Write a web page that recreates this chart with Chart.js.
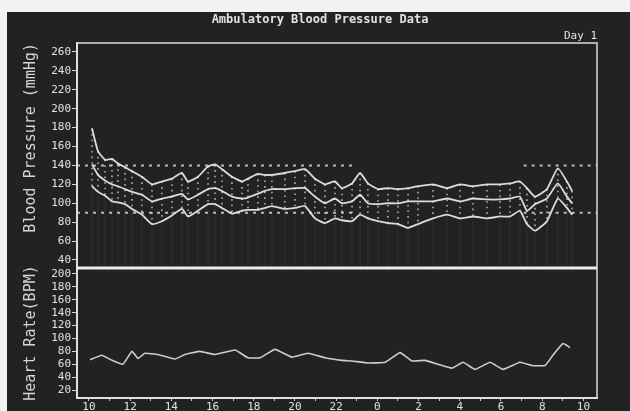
<!DOCTYPE html>
<html>
<head>
<meta charset="utf-8">
<script src="https://cdn.jsdelivr.net/npm/chart.js@4.4.1/dist/chart.umd.min.js"></script>
<style>
  html, body { margin: 0; padding: 0; background: #f2f2f2; }
  #wrap { position: relative; width: 630px; height: 411px; overflow: hidden; }
  #panel { position: absolute; left: 7px; top: 12px; right: 0; bottom: 0; background: #222; }
  #c { position: absolute; left: 0; top: 0; }
</style>
</head>
<body>
<div id="wrap"><div id="panel"></div><canvas id="c" width="630" height="411"></canvas></div>
<script>
// readings, time in hours from midnight of day 1 (24+ = next morning)
const times = [10.15, 10.44, 10.78, 11.12, 11.41, 11.75, 12.09, 12.57, 13.06, 13.54, 14.03, 14.51, 14.81,
  15.29, 15.78, 16.12, 16.46, 16.94, 17.43, 17.72, 18.20, 18.54, 18.88, 19.51, 20.00, 20.49, 20.97, 21.46,
  21.94, 22.28, 22.77, 23.16, 23.54, 24.03, 24.51, 25.00, 25.49, 25.97, 26.70, 27.38, 28.01, 28.64, 29.32,
  29.95, 30.44, 30.92, 31.26, 31.65, 32.23, 32.76, 33.20, 33.45];
const systolic = [179, 155, 146, 147, 142, 138, 134, 128, 120, 123, 126, 132, 123,
  128, 139, 141, 136, 128, 123, 126, 131, 130, 130, 132, 134, 136, 126, 120,
  123, 116, 121, 132, 121, 115, 116, 115, 116, 118, 120, 116, 120, 118, 120,
  120, 121, 123, 116, 107, 115, 137, 123, 113];
const meanBP = [141, 130, 124, 120, 118, 115, 112, 109, 102, 105, 107, 110, 104,
  109, 115, 116, 113, 107, 105, 106, 110, 113, 115, 115, 116, 116, 107, 100,
  105, 100, 102, 109, 100, 99, 100, 100, 102, 102, 102, 105, 102, 105, 104,
  104, 105, 107, 92, 99, 105, 121, 107, 100];
const diastolic = [118, 112, 108, 102, 101, 99, 94, 88, 78, 81, 87, 94, 86,
  92, 99, 99, 95, 89, 92, 93, 93, 95, 97, 94, 95, 97, 84, 79,
  84, 82, 81, 88, 84, 81, 79, 78, 74, 78, 84, 88, 84, 86, 84,
  86, 86, 92, 78, 71, 81, 105, 95, 88];

const hrTimes = [10.05, 10.63, 11.12, 11.65, 12.09, 12.38, 12.72, 13.35, 14.17, 14.66, 15.39, 16.12, 17.09,
  17.72, 18.30, 19.03, 19.85, 20.63, 21.46, 22.28, 22.77, 23.54, 24.37, 25.10, 25.68, 26.31, 26.94, 27.62,
  28.16, 28.74, 29.47, 30.10, 30.92, 31.50, 32.14, 32.52, 33.01, 33.35];
const heartRate = [67, 74, 66, 60, 80, 69, 77, 75, 68, 75, 80, 75, 82,
  70, 70, 83, 71, 77, 70, 66, 65, 62, 63, 78, 65, 66, 60, 54,
  63, 52, 63, 52, 63, 58, 58, 74, 92, 86];

const bpTicks = [40, 60, 80, 100, 120, 140, 160, 180, 200, 220, 240, 260];
const hrTicks = [20, 40, 60, 80, 100, 120, 140, 160, 180, 200];
const hourTicks = [10, 11, 12, 13, 14, 15, 16, 17, 18, 19, 20, 21, 22, 23, 24, 25, 26, 27, 28, 29, 30, 31, 32, 33, 34];
const dayPeriods = [[9.42, 22.9], [31.1, 34.66]];
const dayLimits = [140, 90];

const INK = '#e2e2e2';
const MONO = '"DejaVu Sans Mono", monospace';

const pts = (xs, ys) => xs.map((t, i) => ({x: t, y: ys[i]}));

const datasets = [];
dayPeriods.forEach(p => {
  dayLimits.forEach(lim => {
    datasets.push({
      data: [{x: p[0], y: lim}, {x: p[1], y: lim}],
      yAxisID: 'bp', borderColor: 'rgba(225,225,225,0.8)', borderWidth: 2,
      borderDash: [3, 5], pointRadius: 0
    });
  });
});
[systolic, meanBP, diastolic].forEach(s => {
  datasets.push({
    data: pts(times, s), yAxisID: 'bp', borderColor: 'rgba(236,236,236,0.92)',
    borderWidth: 1.8, pointRadius: 0, tension: 0.15
  });
});
datasets.push({
  data: pts(hrTimes, heartRate), yAxisID: 'hr', borderColor: 'rgba(225,225,225,0.9)',
  borderWidth: 1.6, pointRadius: 0, tension: 0.1
});

// dotted verticals linking diastolic to systolic at each reading
const readingBars = {
  id: 'readingBars',
  beforeDatasetsDraw(chart) {
    const {ctx, scales: {x, bp}} = chart;
    ctx.save();
    times.forEach((t, i) => {
      const px = x.getPixelForValue(t);
      ctx.strokeStyle = 'rgba(255,255,255,0.07)';
      ctx.lineWidth = 1;
      ctx.setLineDash([]);
      ctx.beginPath();
      ctx.moveTo(px, bp.getPixelForValue(diastolic[i]));
      ctx.lineTo(px, bp.bottom);
      ctx.stroke();
      ctx.strokeStyle = 'rgba(225,225,225,0.75)';
      ctx.lineWidth = 1.6;
      ctx.setLineDash([1.6, 4]);
      ctx.beginPath();
      ctx.moveTo(px, bp.getPixelForValue(systolic[i]));
      ctx.lineTo(px, bp.getPixelForValue(diastolic[i]));
      ctx.stroke();
    });
    ctx.restore();
  }
};

// frame, panel divider and headings
const frame = {
  id: 'frame',
  afterDraw(chart) {
    const {ctx, chartArea: a, scales: {bp}} = chart;
    ctx.save();
    ctx.strokeStyle = '#dcdcdc';
    ctx.lineWidth = 1.5;
    ctx.beginPath();
    ctx.moveTo(a.left, a.top);
    ctx.lineTo(a.right, a.top);
    ctx.lineTo(a.right, a.bottom);
    ctx.stroke();
    ctx.lineWidth = 3;
    ctx.strokeStyle = '#ececec';
    ctx.beginPath();
    ctx.moveTo(a.left, bp.bottom);
    ctx.lineTo(a.right, bp.bottom);
    ctx.stroke();
    ctx.fillStyle = INK;
    ctx.textBaseline = 'middle';
    ctx.font = 'bold 12px ' + MONO;
    ctx.textAlign = 'center';
    ctx.fillText('Ambulatory Blood Pressure Data', 320, 20);
    ctx.font = '11px ' + MONO;
    ctx.textAlign = 'right';
    ctx.fillText('Day 1', a.right, 36);
    ctx.restore();
  }
};

const yScale = (min, max, ticks, weight, title, align) => ({
  type: 'linear', position: 'left', stack: 'panels', stackWeight: weight, min, max,
  afterBuildTicks: s => { s.ticks = ticks.map(v => ({value: v})); },
  afterFit: s => { s.width = 69; },
  ticks: {color: INK, font: {family: MONO, size: 11}, padding: 1, autoSkip: false},
  grid: {drawOnChartArea: false, color: '#d0d0d0', tickLength: 5},
  border: {color: '#e0e0e0', width: 2},
  title: {display: true, text: title, align, color: '#d6d6d6',
    font: {family: MONO, size: 15}, padding: {top: 14, bottom: 0}}
});

new Chart(document.getElementById('c'), {
  type: 'line',
  data: {datasets},
  options: {
    responsive: false,
    animation: false,
    layout: {padding: {left: 8, top: 43, right: 33, bottom: 0}},
    plugins: {legend: {display: false}, tooltip: {enabled: false}},
    scales: {
      x: {
        type: 'linear', min: 9.42, max: 34.66,
        afterBuildTicks: s => { s.ticks = hourTicks.map(v => ({value: v})); },
        afterFit: s => { s.height = 13; },
        ticks: {color: INK, font: {family: MONO, size: 11}, padding: 0, autoSkip: false, maxRotation: 0,
          callback: v => (v % 2 === 0 ? String(v % 24) : '')},
        grid: {drawOnChartArea: false, color: '#c8c8c8', tickLength: 3},
        border: {color: '#e0e0e0', width: 2}
      },
      // the first axis of a stack is placed at the bottom
      hr: yScale(7.6, 209.3, hrTicks, 130, 'Heart Rate(BPM)', 'center'),
      bp: yScale(31.5, 269.5, bpTicks, 225, 'Blood Pressure (mmHg)', 'end')
    }
  },
  plugins: [readingBars, frame]
});
</script>
</body>
</html>
